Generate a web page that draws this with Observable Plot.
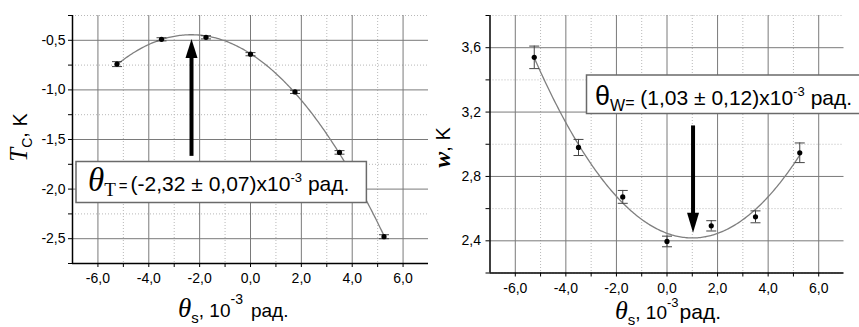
<!DOCTYPE html>
<html>
<head>
<meta charset="utf-8">
<script src="https://cdn.jsdelivr.net/npm/d3@7"></script>
<script src="https://cdn.jsdelivr.net/npm/@observablehq/plot@0.6"></script>
<style>
  html, body { margin: 0; padding: 0; background: #fff; }
  #wrap { display: flex; width: 859px; height: 327px; overflow: hidden; }
  svg { overflow: visible; }
</style>
</head>
<body>
<div id="wrap"><div id="left"></div><div id="right"></div></div>
<script>
// ---- data ----
const thetaS   = [-5.25, -3.5, -1.75, 0, 1.75, 3.5, 5.25];
const tcValues = [-0.74, -0.49, -0.47, -0.64, -1.02, -1.63, -2.48];
const tcErrors = [0.025, 0.016, 0.016, 0.016, 0.016, 0.018, 0.02];
const wValues  = [3.54, 2.98, 2.673, 2.396, 2.493, 2.549, 2.947];
const wErrors  = [0.07, 0.05, 0.04, 0.033, 0.032, 0.037, 0.061];
const thetaT = -2.32, thetaTErr = 0.07;
const thetaW = 1.03,  thetaWErr = 0.12;
const xMajor = [-6, -4, -2, 0, 2, 4, 6];
const xMinor = [-5, -3, -1, 1, 3, 5];
const tcMajor = [-0.5, -1.0, -1.5, -2.0, -2.5];
const tcMinor = [-0.25, -0.75, -1.25, -1.75, -2.25, -2.75];
const wMajor = [2.4, 2.8, 3.2, 3.6];
const wMinor = [2.2, 2.6, 3.0, 3.4, 3.8];

const fmt = d => d.toFixed(1).replace(".", ",");
const fmt2 = d => d.toFixed(2).replace(".", ",");

// least-squares quadratic fit y = a + b x + c x^2
function quadFit(xs, ys) {
  const n = xs.length;
  let s = [0,0,0,0,0], t = [0,0,0];
  for (let i = 0; i < n; i++) {
    const x = xs[i], y = ys[i];
    for (let k = 0; k < 5; k++) s[k] += Math.pow(x, k);
    for (let k = 0; k < 3; k++) t[k] += y * Math.pow(x, k);
  }
  const M = [[s[0],s[1],s[2],t[0]],[s[1],s[2],s[3],t[1]],[s[2],s[3],s[4],t[2]]];
  for (let i = 0; i < 3; i++) {
    for (let j = i + 1; j < 3; j++) {
      const f = M[j][i] / M[i][i];
      for (let k = i; k < 4; k++) M[j][k] -= f * M[i][k];
    }
  }
  const r = [0,0,0];
  for (let i = 2; i >= 0; i--) {
    let v = M[i][3];
    for (let k = i + 1; k < 3; k++) v -= M[i][k] * r[k];
    r[i] = v / M[i][i];
  }
  return r;
}
function fitCurve(xs, ys) {
  const [a, b, c] = quadFit(xs, ys);
  const x0 = d3.min(xs), x1 = d3.max(xs);
  return d3.range(0, 201).map(i => {
    const x = x0 + (x1 - x0) * i / 200;
    return {x, y: a + b * x + c * x * x};
  });
}

const upHead = {draw(ctx) { ctx.moveTo(0, 0); ctx.lineTo(-6, 19); ctx.lineTo(6, 19); ctx.closePath(); }};
const downHead = {draw(ctx) { ctx.moveTo(0, 0); ctx.lineTo(-6, -20); ctx.lineTo(6, -20); ctx.closePath(); }};
const capSym = {draw(ctx) { ctx.moveTo(-5, 0); ctx.lineTo(5, 0); }};

function panel(opts) {
  const rows = thetaS.map((x, i) => ({x, y: opts.values[i], e: opts.errors[i]}));
  const fit = fitCurve(thetaS, opts.values);
  return Plot.plot({
    width: opts.width, height: 327,
    marginLeft: opts.marginLeft, marginRight: opts.marginRight,
    marginTop: 15, marginBottom: opts.marginBottom,
    style: {fontFamily: "'Liberation Sans', Arial, sans-serif", fontSize: "14px", color: "black", background: "white"},
    x: {domain: [-7, 7]},
    y: {domain: opts.yDomain},
    marks: [
      Plot.gridX(xMinor, {stroke: "#b8b8b8", strokeOpacity: 1, strokeDasharray: "1,2"}),
      Plot.gridY(opts.yMinor, {stroke: "#b8b8b8", strokeOpacity: 1, strokeDasharray: "1,2"}),
      Plot.gridX(xMajor, {stroke: "#7a7a7a", strokeOpacity: 1, strokeWidth: 1}),
      Plot.gridY(opts.yMajor, {stroke: "#7a7a7a", strokeOpacity: 1, strokeWidth: 1}),
      Plot.axisX(xMajor, {tickSize: 4, tickPadding: 6, tickFormat: fmt, label: null, stroke: "black", fontSize: 14, fill: "black"}),
      Plot.axisX(xMinor, {tickSize: 4, text: null, label: null, stroke: "black"}),
      Plot.axisY(opts.yMajor, {tickSize: 4, tickPadding: opts.yPad, tickFormat: fmt, label: null, stroke: "black", fontSize: 14, fill: "black"}),
      Plot.axisY(opts.yMinor, {tickSize: 4, text: null, label: null, stroke: "black"}),
      Plot.ruleX([-7], {stroke: "black", strokeWidth: 1.5}),
      Plot.ruleY([opts.yDomain[0]], {stroke: "black", strokeWidth: 1.5}),
      Plot.line(fit, {x: "x", y: "y", stroke: "#7f7f7f", strokeWidth: 1.3}),
      Plot.ruleX(rows, {x: "x", y1: d => d.y - d.e, y2: d => d.y + d.e, stroke: "#444", strokeWidth: 1}),
      Plot.dot(rows, {x: "x", y: d => d.y + d.e, symbol: capSym, stroke: "#444", strokeWidth: 1, fill: "none"}),
      Plot.dot(rows, {x: "x", y: d => d.y - d.e, symbol: capSym, stroke: "#444", strokeWidth: 1, fill: "none"}),
      Plot.dot(rows, {x: "x", y: "y", r: 2.6, fill: "black", stroke: "none"}),
      Plot.link([opts.arrow], {x1: d => d.x, x2: d => d.x, y1: d => d.tail, y2: d => d.shaftEnd, stroke: "black", strokeWidth: 4}),
      Plot.dot([opts.arrow], {x: d => d.x, y: d => d.tip, symbol: opts.arrow.head, fill: "black", stroke: "none"})
    ]
  });
}

function rich(parent, x, y, parts, anchor) {
  const t = parent.append("text").attr("x", x).attr("y", y).attr("fill", "black")
    .attr("text-anchor", anchor || "start");
  for (const p of parts) {
    const s = t.append("tspan").text(p.t)
      .attr("font-family", p.serif ? "'Liberation Serif', 'Times New Roman', serif" : "'Liberation Sans', Arial, sans-serif")
      .attr("font-size", p.size);
    if (p.italic) s.attr("font-style", "italic");
    if (p.bold) s.attr("font-weight", "bold");
    if (p.dy) s.attr("dy", p.dy);
    if (p.dx) s.attr("dx", p.dx);
  }
  return t;
}

// ---- left panel ----
const left = panel({
  width: 430, marginLeft: 72, marginRight: 2, marginBottom: 64, yPad: 3,
  values: tcValues, errors: tcErrors, yDomain: [-2.75, -0.25],
  yMajor: tcMajor, yMinor: tcMinor,
  arrow: {x: thetaT, tail: -1.665, tip: -0.487, shaftEnd: -0.6, head: upHead}
});
document.getElementById("left").appendChild(left);
{
  const svg = d3.select(left);
  const g = svg.append("g");
  const rect = g.append("rect");
  const txt = rich(g, 88, 191, [
    {t: "θ", serif: true, italic: true, size: 33},
    {t: "T", serif: true, size: 19, dy: 5},
    {t: "=", size: 15, dx: 3, dy: -5},
    {t: `(${fmt2(thetaT)} ± ${fmt2(thetaTErr)})x10`, size: 21, dx: 3},
    {t: "-3", size: 13, dy: -9},
    {t: "рад.", size: 21, dy: 9, dx: 6}
  ]);
  const bb = txt.node().getBBox();
  rect.attr("x", 76).attr("y", 161.5).attr("width", bb.x + bb.width + 17 - 76).attr("height", 41)
    .attr("fill", "white").attr("stroke", "#6a6a6a").attr("stroke-width", 1.5);
  const gy = svg.append("g").attr("transform", "translate(27,137.5) rotate(-90)");
  rich(gy, 0, 0, [
    {t: "T", serif: true, italic: true, size: 25},
    {t: "C", size: 14, dy: 5},
    {t: ", K", size: 20, dy: -5}
  ], "middle");
  rich(svg, 178, 317, [
    {t: "θ", serif: true, italic: true, size: 27},
    {t: "s", size: 15, dy: 6},
    {t: ", 10", size: 19, dy: -6},
    {t: "-3", size: 14, dy: -13},
    {t: "рад.", size: 19, dy: 13, dx: 8}
  ]);
}

// ---- right panel ----
const right = panel({
  width: 429, marginLeft: 59.5, marginRight: 15.5, marginBottom: 54.5, yPad: 5,
  values: wValues, errors: wErrors, yDomain: [2.2, 3.8],
  yMajor: wMajor, yMinor: wMinor,
  arrow: {x: thetaW, tail: 3.117, tip: 2.45, shaftEnd: 2.52, head: downHead}
});
document.getElementById("right").appendChild(right);
{
  const svg = d3.select(right);
  const g = svg.append("g");
  const rect = g.append("rect");
  rich(g, 165, 105, [
    {t: "θ", size: 27},
    {t: "W", size: 16, dy: 6},
    {t: "=", size: 16, dy: -3},
    {t: ` (${fmt2(thetaW)} ± ${fmt2(thetaWErr)})x10`, size: 21, dy: -3},
    {t: "-3", size: 13, dy: -9},
    {t: "рад.", size: 21, dy: 9, dx: 6}
  ]);
  rect.attr("x", 156.5).attr("y", 75).attr("width", 275).attr("height", 38.5)
    .attr("fill", "white").attr("stroke", "#6a6a6a").attr("stroke-width", 1.5);
  const gy = svg.append("g").attr("transform", "translate(20,147.5) rotate(-90)");
  rich(gy, 0, 0, [
    {t: "w", serif: true, italic: true, bold: true, size: 24},
    {t: ", K", size: 20}
  ], "middle");
  rich(svg, 185, 319, [
    {t: "θ", serif: true, italic: true, size: 26},
    {t: "s", size: 15, dy: 6},
    {t: ", 10", size: 19, dy: -6},
    {t: "-3", size: 13, dy: -12},
    {t: "рад.", size: 21, dy: 12, dx: 1}
  ]);
}
</script>
</body>
</html>
